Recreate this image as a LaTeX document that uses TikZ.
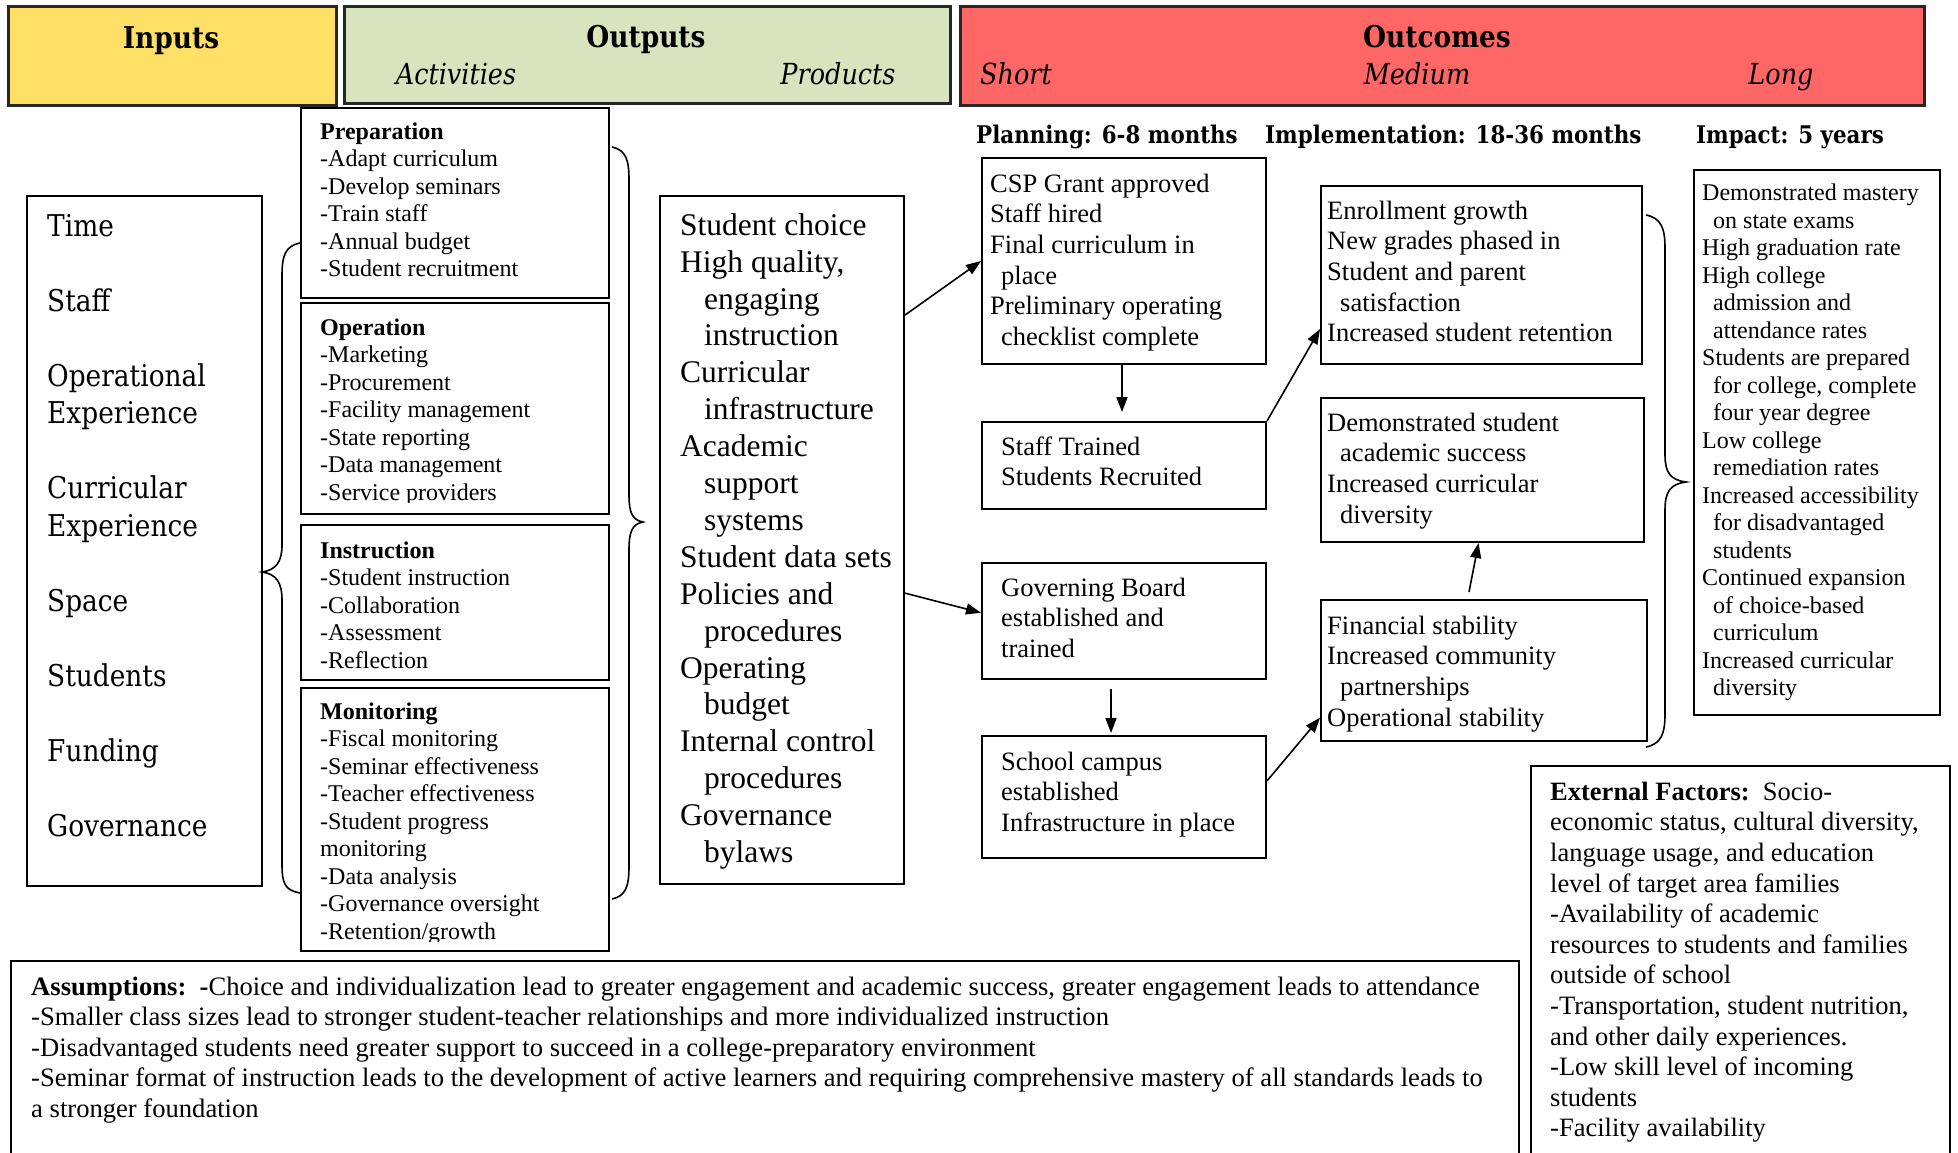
\documentclass[tikz,border=0pt]{standalone}
\usepackage{fontspec}
\setmainfont{Liberation Serif}
\newfontfamily\camb[FakeStretch=0.88]{DejaVu Serif}
\usetikzlibrary{arrows.meta,calc}
\definecolor{inY}{HTML}{FFE066}
\definecolor{outG}{HTML}{D7E4BD}
\definecolor{ocR}{HTML}{FF6666}
\begin{document}
\begin{tikzpicture}[x=1pt,y=-1pt,
  box/.style={draw=black, line width=2pt, inner sep=0pt, anchor=north west},
  hdr/.style={draw=black!85, line width=2.6pt, inner sep=0pt, anchor=north west},
  tS/.style={font=\fontsize{24}{27.5}\selectfont, align=left, anchor=north west, inner sep=0pt, yshift=19.25pt},
  tM/.style={font=\fontsize{26.5}{30.6}\selectfont, align=left, anchor=north west, inner sep=0pt, yshift=21.42pt},
  tL/.style={font=\fontsize{31.5}{36.9}\selectfont, align=left, anchor=north west, inner sep=0pt, yshift=25.83pt},
  tA/.style={font=\fontsize{26.6}{30.5}\selectfont, align=left, anchor=north west, inner sep=0pt, yshift=21.35pt},
  tIn/.style={font=\camb\fontsize{30}{37.5}\selectfont, align=left, anchor=north west, inner sep=0pt, yshift=26.25pt},
  hT/.style={font=\camb\bfseries\fontsize{30}{36}\selectfont, inner sep=0pt, anchor=base},
  hI/.style={font=\camb\itshape\fontsize{29}{36}\selectfont, inner sep=0pt, anchor=base},
  sH/.style={font=\camb\bfseries\fontsize{24.3}{30}\selectfont, inner sep=0pt, anchor=base west},
  brc/.style={line width=1.6pt},
  arr/.style={line width=1.6pt, -{Triangle[length=15pt,width=11pt]}}
]
\useasboundingbox (0,0) rectangle (1958,1152);
\clip (0,0) rectangle (1958,1152);

% ---------- header ----------
\node[hdr, fill=inY, minimum width=328pt, minimum height=99pt] (hin) at (7,5) {};
\node[hdr, fill=outG, minimum width=606pt, minimum height=97pt] (hout) at (343,5) {};
\node[hdr, fill=ocR, minimum width=964pt, minimum height=99pt] (hoc) at (959,5) {};
\node[hT] (tin) at (171,48) {Inputs};
\node[hT] (tout) at (646,47) {Outputs};
\node[hI] (tact) at (456,84) {Activities};
\node[hI] (tprod) at (838,84) {Products};
\node[hT] (toc) at (1437,47) {Outcomes};
\node[hI, anchor=base west] (tshort) at (980,84) {Short};
\node[hI] (tmed) at (1417,84) {Medium};
\node[hI] (tlong) at (1781,84) {Long};

\node[sH] (plan) at (976,143) {Planning: 6-8 months};
\node[sH] (impl) at (1265,143) {Implementation: 18-36 months};
\node[sH] (impa) at (1696,143) {Impact: 5 years};

% ---------- inputs ----------
\node[box, minimum width=235pt, minimum height=690pt] (inp) at (26,195) {};
\node[tIn] (inpT) at (47,236) {\strut Time\\ \strut\\ Staff\\ \strut\\ Operational\\ Experience\\ \strut\\ Curricular\\ Experience\\ \strut\\ Space\\ \strut\\ Students\\ \strut\\ Funding\\ \strut\\ Governance};

% ---------- activities ----------
\node[box, minimum width=308pt, minimum height=190pt] (prep) at (300,107) {};
\node[box, minimum width=308pt, minimum height=211pt] (oper) at (300,302) {};
\node[box, minimum width=308pt, minimum height=155pt] (inst) at (300,524) {};
\node[box, minimum width=308pt, minimum height=263pt] (moni) at (300,687) {};

\node[tS] (prepT) at (320,139) {\strut\textbf{Preparation}\\-Adapt curriculum\\-Develop seminars\\-Train staff\\-Annual budget\\-Student recruitment};
\begin{scope}
\clip (300,302) rectangle (608,502);
\node[tS] (operT) at (320,335) {\strut\textbf{Operation}\\-Marketing\\-Procurement\\-Facility management\\-State reporting\\-Data management\\-Service providers};
\end{scope}
\node[tS] (instT) at (320,558) {\strut\textbf{Instruction}\\-Student instruction\\-Collaboration\\-Assessment\\-Reflection};
\begin{scope}
\clip (300,687) rectangle (608,941);
\node[tS] (moniT) at (320,719) {\strut\textbf{Monitoring}\\-Fiscal monitoring\\-Seminar effectiveness\\-Teacher effectiveness\\-Student progress\\monitoring\\-Data analysis\\-Governance oversight\\-Retention/growth};
\end{scope}

% braces
\draw[brc] (300,243) .. controls (285,246) and (282,256) .. (282,276) -- (282,545) .. controls (282,562) and (276,570) .. (262,572) .. controls (276,574) and (282,582) .. (282,600) -- (282,864) .. controls (282,884) and (285,890) .. (300,893);
\draw[brc] (612,147) .. controls (626,150) and (629,160) .. (629,180) -- (629,495) .. controls (629,512) and (632,520) .. (643,522) .. controls (632,524) and (629,532) .. (629,550) -- (629,866) .. controls (629,886) and (626,896) .. (612,899);
\draw[brc] (1646,215) .. controls (1661,218) and (1665,228) .. (1665,248) -- (1665,455) .. controls (1665,472) and (1670,480) .. (1686,482) .. controls (1670,484) and (1665,492) .. (1665,510) -- (1665,714) .. controls (1665,734) and (1661,744) .. (1646,747);

% ---------- products ----------
\node[box, minimum width=244pt, minimum height=688pt] (prod) at (659,195) {};
\node[tL] (prodT) at (680,235) {\strut Student choice\\High quality,\\\hspace*{24pt}engaging\\\hspace*{24pt}instruction\\Curricular\\\hspace*{24pt}infrastructure\\Academic\\\hspace*{24pt}support\\\hspace*{24pt}systems\\Student data sets\\Policies and\\\hspace*{24pt}procedures\\Operating\\\hspace*{24pt}budget\\Internal control\\\hspace*{24pt}procedures\\Governance\\\hspace*{24pt}bylaws};

% ---------- short ----------
\node[box, minimum width=284pt, minimum height=206pt] (csp) at (981,157) {};
\node[tM] (cspT) at (990,192) {\strut CSP Grant approved\\Staff hired\\Final curriculum in\\\hspace*{11pt}place\\Preliminary operating\\\hspace*{11pt}checklist complete};
\node[box, minimum width=284pt, minimum height=87pt] (stf) at (981,421) {};
\node[tM] (stfT) at (1001,455) {\strut Staff Trained\\Students Recruited};
\node[box, minimum width=284pt, minimum height=116pt] (gov) at (981,562) {};
\node[tM] (govT) at (1001,596) {\strut Governing Board\\established and\\trained};
\node[box, minimum width=284pt, minimum height=122pt] (sch) at (981,735) {};
\node[tM] (schT) at (1001,770) {\strut School campus\\established\\Infrastructure in place};

% ---------- medium ----------
\node[box, minimum width=321pt, minimum height=178pt] (enr) at (1320,185) {};
\node[tM] (enrT) at (1327,219) {\strut Enrollment growth\\New grades phased in\\Student and parent\\\hspace*{13pt}satisfaction\\Increased student retention};
\node[box, minimum width=323pt, minimum height=144pt] (dem) at (1320,397) {};
\node[tM] (demT) at (1327,431) {\strut Demonstrated student\\\hspace*{13pt}academic success\\Increased curricular\\\hspace*{13pt}diversity};
\node[box, minimum width=326pt, minimum height=141pt] (fin) at (1320,599) {};
\node[tM] (finT) at (1327,634) {\strut Financial stability\\Increased community\\\hspace*{13pt}partnerships\\Operational stability};

% ---------- long ----------
\node[box, minimum width=246pt, minimum height=545pt] (lng) at (1693,169) {};
\node[tS] (lngT) at (1702,200.5) {\strut Demonstrated mastery\\\hspace*{11pt}on state exams\\High graduation rate\\High college\\\hspace*{11pt}admission and\\\hspace*{11pt}attendance rates\\Students are prepared\\\hspace*{11pt}for college, complete\\\hspace*{11pt}four year degree\\Low college\\\hspace*{11pt}remediation rates\\Increased accessibility\\\hspace*{11pt}for disadvantaged\\\hspace*{11pt}students\\Continued expansion\\\hspace*{11pt}of choice-based\\\hspace*{11pt}curriculum\\Increased curricular\\\hspace*{11pt}diversity};

% ---------- external factors ----------
\node[box, minimum width=419pt, minimum height=420pt] (ext) at (1530,765) {};
\node[tM] (extT) at (1550,800) {\strut\textbf{External Factors:}\ \ Socio-\\economic status, cultural diversity,\\language usage, and education\\level of target area families\\-Availability of academic\\resources to students and families\\outside of school\\-Transportation, student nutrition,\\and other daily experiences.\\-Low skill level of incoming\\students\\-Facility availability};

% ---------- assumptions ----------
\node[box, minimum width=1508pt, minimum height=230pt] (asm) at (10,960) {};
\node[tA] (asmT) at (31,995) {\strut\textbf{Assumptions:\ \ -}Choice and individualization lead to greater engagement and academic success, greater engagement leads to attendance\\-Smaller class sizes lead to stronger student-teacher relationships and more individualized instruction\\-Disadvantaged students need greater support to succeed in a college-preparatory environment\\-Seminar format of instruction leads to the development of active learners and requiring comprehensive mastery of all standards leads to\\a stronger foundation};

% ---------- arrows ----------
\draw[arr] ($(prod.north east)!0.174!(prod.south east)$) -- (csp.west);
\draw[arr] ($(prod.north east)!0.577!(prod.south east)$) -- ($(gov.north west)!0.43!(gov.south west)$);
\draw[arr, shorten >=9pt] ([xshift=-2pt]csp.south) -- ([xshift=-2pt]stf.north);
\draw[arr, shorten <=9pt, shorten >=2pt] ([xshift=-13pt]gov.south) -- ([xshift=-13pt]sch.north);
\draw[arr] (stf.north east) -- ($(enr.north west)!0.8!(enr.south west)$);
\draw[arr] ($(sch.north east)!0.37!(sch.south east)$) -- ($(fin.north west)!0.83!(fin.south west)$);
\draw[arr] ([xshift=-15pt,yshift=7pt]fin.north) -- ([xshift=-4pt]dem.south);
\end{tikzpicture}
\end{document}
